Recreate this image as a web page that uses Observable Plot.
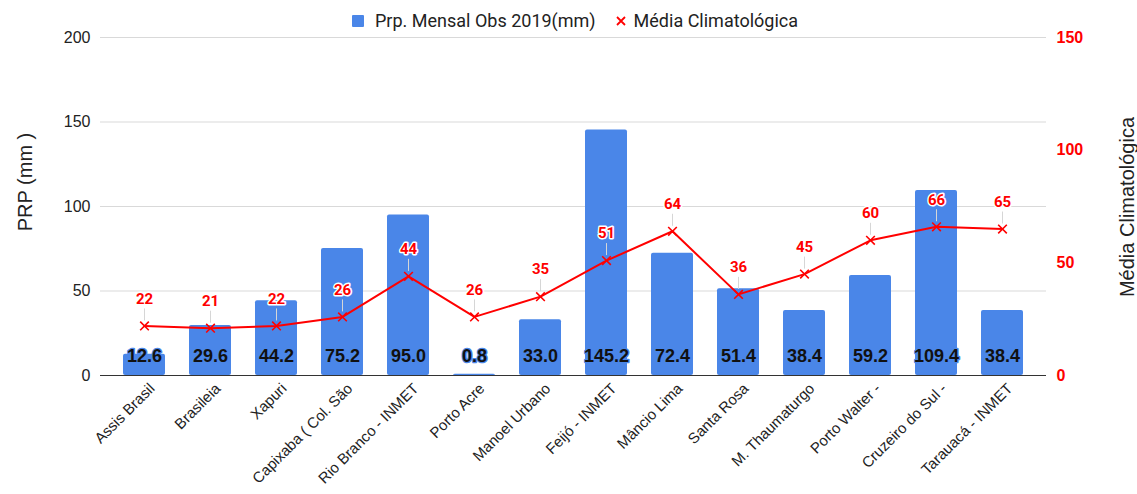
<!DOCTYPE html>
<html>
<head>
<meta charset="utf-8">
<script src="https://cdn.jsdelivr.net/npm/d3@7"></script>
<script src="https://cdn.jsdelivr.net/npm/@observablehq/plot@0.6"></script>
<style>
  body { margin: 0; background: #fff; }
  #wrap { position: relative; width: 1137px; height: 494px; overflow: hidden; }
  #legend { position: absolute; top: 10px; left: 352px; display: flex; align-items: center;
    font-family: Roboto, "Liberation Sans", sans-serif; font-size: 18px; color: #222; white-space: nowrap; }
  #legend .sw { width: 12px; height: 12px; background: #4a86e8; border-radius: 1px; margin-right: 11px; }
  #legend .gap { width: 20px; }
  #legend svg { margin-right: 8px; }
  .ytitle { position: absolute; font-family: "Liberation Sans", Arial, sans-serif; font-size: 20px; color: #222;
    white-space: nowrap; transform: translate(-50%, -50%) rotate(-90deg); }
</style>
</head>
<body>
<div id="wrap">
  <div id="chart"></div>
  <div id="legend">
    <div class="sw"></div><span>Prp. Mensal Obs 2019(mm)</span>
    <div class="gap"></div>
    <svg width="10" height="10" viewBox="0 0 10 10"><path d="M1,1L9,9M9,1L1,9" stroke="#ff0000" stroke-width="1.8"/></svg>
    <span>Média Climatológica</span>
  </div>
  <div class="ytitle" style="left:25px; top:182px;">PRP (mm )</div>
  <div class="ytitle" style="left:1127px; top:207px;">Média Climatológica</div>
</div>
<script>
const categories = ["Assis Brasil", "Brasileia", "Xapuri", "Capixaba ( Col. São", "Rio Branco - INMET",
  "Porto Acre", "Manoel Urbano", "Feijó - INMET", "Mâncio Lima", "Santa Rosa", "M. Thaumaturgo",
  "Porto Walter -", "Cruzeiro do Sul -", "Tarauacá - INMET"];
const prpObs2019 = [12.6, 29.6, 44.2, 75.2, 95.0, 0.8, 33.0, 145.2, 72.4, 51.4, 38.4, 59.2, 109.4, 38.4];
const mediaClimatologica = [22, 21, 22, 26, 44, 26, 35, 51, 64, 36, 45, 60, 66, 65];
const leftTicks = [0, 50, 100, 150, 200];
const rightTicks = [0, 50, 100, 150];

const leftMax = 200, rightMax = 150;
const k = leftMax / rightMax; // right-axis value -> left-axis units

const data = categories.map((c, i) => ({
  cat: c, prp: prpObs2019[i], clim: mediaClimatologica[i], yc: mediaClimatologica[i] * k
}));

const W = 1137, H = 494, mT = 37, mB = 119;
const unitPerPx = leftMax / (H - mT - mB);
const barBlue = "#4a86e8";

const chart = Plot.plot({
  width: W, height: H,
  marginTop: mT, marginBottom: mB, marginLeft: 100, marginRight: 91,
  style: { fontFamily: "'Liberation Sans', Arial, sans-serif", background: "white", overflow: "visible" },
  x: { domain: categories, insetLeft: 11, insetRight: 11, paddingInner: 0.36, paddingOuter: 0.18, axis: null },
  y: { domain: [0, leftMax], axis: null },
  marks: [
    Plot.gridY(leftTicks.slice(1), { stroke: "#d9d9d9", strokeOpacity: 1, strokeWidth: 1 }),
    Plot.axisY(leftTicks, { anchor: "left", tickSize: 0, tickPadding: 10, fontSize: 16, fill: "#222", label: null }),
    Plot.axisY(rightTicks.map(v => v * k), { anchor: "right", tickSize: 0, tickPadding: 10, fontSize: 16,
      fill: "#ff0000", fontWeight: "bold", tickFormat: d => Math.round(d / k), label: null }),
    Plot.barY(data, { x: "cat", y: "prp", fill: barBlue, rx: 2 }),
    Plot.ruleY([0], { stroke: "#333", strokeWidth: 1 }),
    Plot.text(data, { x: "cat", y: 0, dy: -19, text: d => d.prp.toFixed(1),
      fontFamily: "'Liberation Sans', Arial, sans-serif", fontSize: 18, fontWeight: "bold", fill: "#111",
      stroke: barBlue, strokeWidth: 2.5, paintOrder: "stroke" }),
    Plot.ruleX(data, { x: "cat", y1: d => d.yc + 5 * unitPerPx, y2: d => d.yc + 17 * unitPerPx,
      stroke: "#d6d6d6", strokeWidth: 1 }),
    Plot.line(data, { x: "cat", y: "yc", stroke: "#ff0000", strokeWidth: 2 }),
    Plot.dot(data, { x: "cat", y: "yc", symbol: "times", r: 4, stroke: "#ff0000", strokeWidth: 1.6 }),
    Plot.text(data, { x: "cat", y: "yc", dy: -27, text: d => String(d.clim),
      fontFamily: "Roboto, sans-serif", fontSize: 15, fontWeight: "bold", fill: "#ff0000",
      stroke: "white", strokeWidth: 3, paintOrder: "stroke" }),
    Plot.text(categories, { x: d => d, frameAnchor: "bottom", rotate: -45, textAnchor: "end",
      dx: 11, dy: 14, fontSize: 15, fill: "#222" })
  ]
});
document.getElementById("chart").appendChild(chart);
</script>
</body>
</html>
